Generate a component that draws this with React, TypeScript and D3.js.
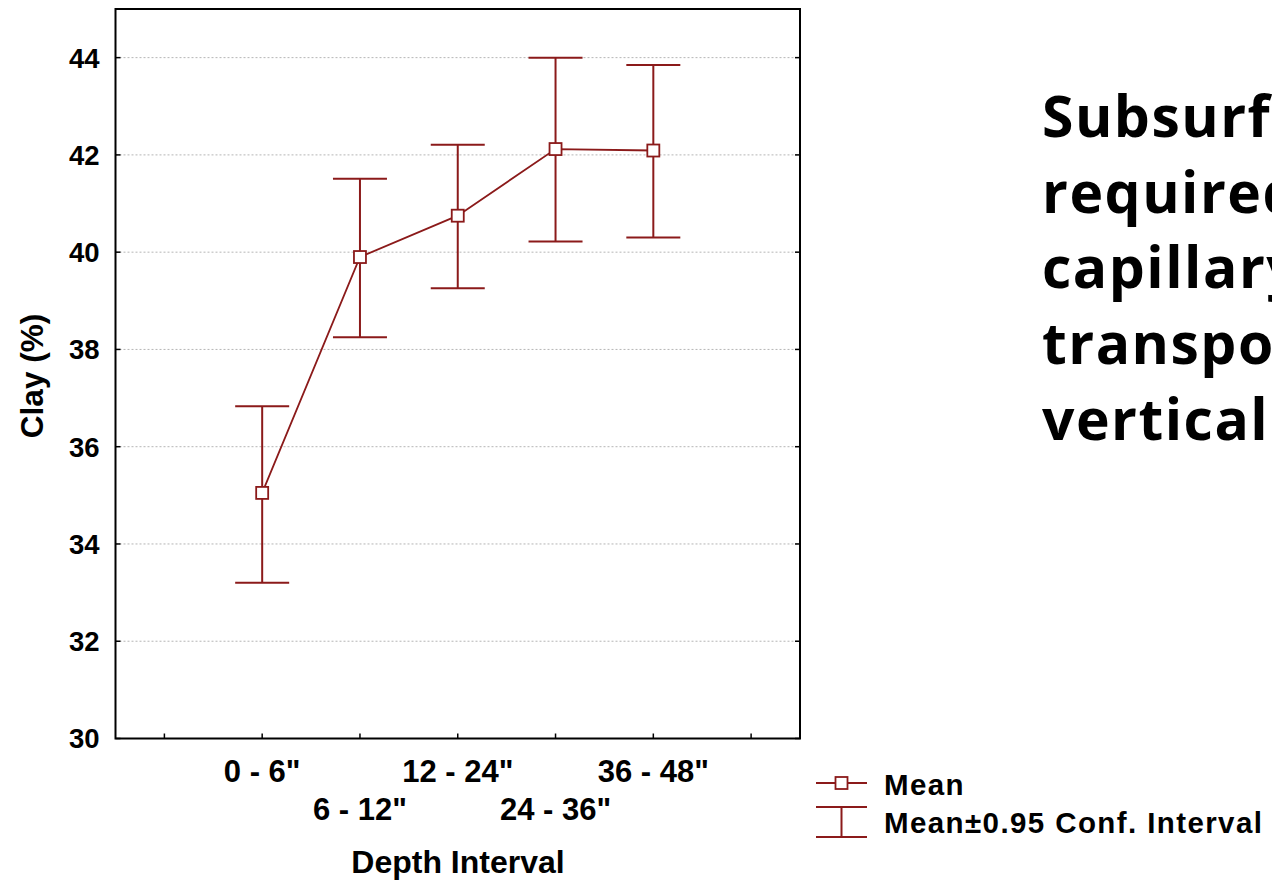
import React from "react";
import * as d3 from "d3";

const categories = ['0 - 6"', '6 - 12"', '12 - 24"', '24 - 36"', '36 - 48"'];
const means = [35.05, 39.9, 40.75, 42.12, 42.09];
const upper = [36.83, 41.51, 42.21, 44.0, 43.85];
const lower = [33.2, 38.25, 39.26, 40.22, 40.3];
const yTicks = [30, 32, 34, 36, 38, 40, 42, 44];
const xTickPositions = [0, 1, 2, 3, 4, 5, 6];
const sideText = ["Subsurf", "required", "capillary", "transpor", "vertical"];

const RED = "#8B1A1A";
const FONT = "'Liberation Sans', Arial, sans-serif";

export default function App() {
  const left = 115.5, right = 800, top = 9, bottom = 738.5;
  const x = d3.scaleLinear().domain([-0.5, 6.5]).range([left, right]);
  const y = d3.scaleLinear().domain([30, 45]).range([bottom, top]);
  const line = d3
    .line<number>()
    .x((_, i) => x(i + 1))
    .y((d) => y(d));
  const capW = 27;
  const sq = 12;

  return (
    <svg
      width={1272}
      height={881}
      style={{ position: "absolute", left: 0, top: 0, display: "block", background: "#fff" }}
    >
      {/* grid */}
      {yTicks
        .filter((t) => t > 30)
        .map((t) => (
          <line
            key={"g" + t}
            x1={left}
            x2={right}
            y1={y(t)}
            y2={y(t)}
            stroke="#b5b5b5"
            strokeWidth={1}
            strokeDasharray="2,2"
          />
        ))}
      {/* y ticks inward left and right */}
      {yTicks.map((t) => (
        <g key={"yt" + t}>
          <line x1={left} x2={left + 5} y1={y(t)} y2={y(t)} stroke="#000" strokeWidth={1.5} />
          <line x1={right - 5} x2={right} y1={y(t)} y2={y(t)} stroke="#000" strokeWidth={1.5} />
          <text
            x={99.5}
            y={y(t)}
            dy="0.36em"
            textAnchor="end"
            fontFamily={FONT}
            fontWeight="bold"
            fontSize={27.5}
          >
            {t}
          </text>
        </g>
      ))}
      {/* x ticks inward */}
      {xTickPositions.map((t) => (
        <line key={"xt" + t} x1={x(t)} x2={x(t)} y1={bottom} y2={bottom - 5} stroke="#000" strokeWidth={1.5} />
      ))}
      {/* frame */}
      <rect x={left} y={top} width={right - left} height={bottom - top} fill="none" stroke="#000" strokeWidth={2} />

      {/* x labels */}
      {categories.map((c, i) => (
        <text
          key={"xl" + i}
          x={x(i + 1)}
          y={i % 2 === 0 ? 782 : 820}
          textAnchor="middle"
          fontFamily={FONT}
          fontWeight="bold"
          fontSize={31}
        >
          {c}
        </text>
      ))}
      <text x={458} y={873} textAnchor="middle" fontFamily={FONT} fontWeight="bold" fontSize={32}>
        Depth Interval
      </text>
      <text
        transform={`translate(43,376) rotate(-90)`}
        textAnchor="middle"
        fontFamily={FONT}
        fontWeight="bold"
        fontSize={31.5}
      >
        Clay (%)
      </text>

      {/* error bars */}
      {means.map((m, i) => {
        const cx = x(i + 1);
        return (
          <g key={"eb" + i} stroke={RED} strokeWidth={2}>
            <line x1={cx} x2={cx} y1={y(upper[i])} y2={y(lower[i])} />
            <line x1={cx - capW} x2={cx + capW} y1={y(upper[i])} y2={y(upper[i])} />
            <line x1={cx - capW} x2={cx + capW} y1={y(lower[i])} y2={y(lower[i])} />
          </g>
        );
      })}
      <path d={line(means) || ""} fill="none" stroke={RED} strokeWidth={1.8} />
      {means.map((m, i) => (
        <rect
          key={"m" + i}
          x={x(i + 1) - sq / 2}
          y={y(m) - sq / 2}
          width={sq}
          height={sq}
          fill="#fff"
          stroke={RED}
          strokeWidth={1.8}
        />
      ))}

      {/* legend */}
      <g stroke={RED} strokeWidth={2}>
        <line x1={816} x2={867} y1={783} y2={783} />
        <line x1={816} x2={867} y1={807} y2={807} />
        <line x1={816} x2={867} y1={837} y2={837} />
        <line x1={841.5} x2={841.5} y1={807} y2={837} />
      </g>
      <rect x={835.5} y={777} width={12} height={12} fill="#fff" stroke={RED} strokeWidth={1.8} />
      <text x={884} y={795} fontFamily={FONT} fontWeight="bold" fontSize={29.5} letterSpacing={1.4}>
        Mean
      </text>
      <text x={884} y={833} fontFamily={FONT} fontWeight="bold" fontSize={29.5} letterSpacing={1.4}>
        Mean±0.95 Conf. Interval
      </text>

      {/* side text */}
      {sideText.map((s, i) => (
        <text
          key={"st" + i}
          x={1042}
          y={137 + i * 75.7}
          fontFamily="'Comic Sans MS', 'Open Sans', 'DejaVu Sans', sans-serif"
          fontWeight="bold"
          fontSize={57}
          letterSpacing={1.5}
        >
          {s}
        </text>
      ))}
    </svg>
  );
}
